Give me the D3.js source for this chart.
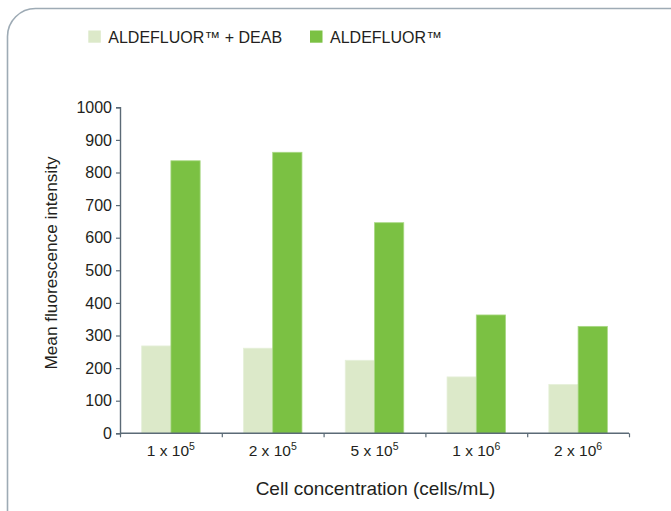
<!DOCTYPE html>
<html>
<head>
<meta charset="utf-8">
<script src="https://cdn.jsdelivr.net/npm/d3@7"></script>
<style>
  body { margin: 0; background: #fff; }
  text { font-family: "Liberation Sans", Arial, sans-serif; fill: #231f20; }
</style>
</head>
<body>
<div class="canvas"></div>
<script>
// data
const categories = ["1 x 10|5", "2 x 10|5", "5 x 10|5", "1 x 10|6", "2 x 10|6"];
const seriesNames = ["ALDEFLUOR™ + DEAB", "ALDEFLUOR™"];
const deabValues = [268, 261, 224, 173, 150];
const aldefluorValues = [836, 862, 646, 363, 328];
const yTicks = [0, 100, 200, 300, 400, 500, 600, 700, 800, 900, 1000];
const colors = ["#dce9c9", "#7bc143"];

const width = 671, height = 511;
const svg = d3.select(".canvas").append("svg")
  .attr("width", width).attr("height", height);

// rounded frame
svg.append("rect")
  .attr("x", 7.5).attr("y", 8.5)
  .attr("width", 700).attr("height", 530)
  .attr("rx", 28).attr("ry", 28)
  .attr("fill", "none")
  .attr("stroke", "#9eabb5")
  .attr("stroke-width", 1.6);

const plotLeft = 120, plotRight = 629, plotTop = 107.3, plotBottom = 433.3;

let yScale = d3.scaleLinear().domain([0, 1000]).range([plotBottom, plotTop]);
let x0 = d3.scaleBand().domain(categories).range([plotLeft, plotRight]).padding(0);
let x1 = d3.scaleBand().domain(seriesNames).range([0, x0.bandwidth()])
  .paddingInner(0).paddingOuter(0.74);
let xEdges = d3.scaleLinear().domain([0, categories.length]).range([plotLeft, plotRight]);

let rows = categories.map((c, i) => ({
  cat: c,
  values: [deabValues[i], aldefluorValues[i]]
}));

// bars
let groups = svg.selectAll("g.group")
  .data(rows)
  .join("g")
  .attr("class", "group")
  .attr("transform", (d) => `translate(${x0(d.cat)},0)`);

groups.selectAll("rect")
  .data((d) => d.values.map((v, j) => ({ name: seriesNames[j], value: v, j: j })))
  .join("rect")
  .attr("x", (d) => x1(d.name))
  .attr("width", x1.bandwidth())
  .attr("y", (d) => yScale(d.value))
  .attr("height", (d) => yScale(0) - yScale(d.value))
  .attr("fill", (d) => colors[d.j])
  .attr("stroke", (d) => (d.j === 0 ? "#e6f0da" : "#a9d884"))
  .attr("stroke-width", 0.8);

const axisColor = "#5b6a76";

// y axis
let yAxis = svg.append("g")
  .attr("transform", `translate(${plotLeft},0)`)
  .call(d3.axisLeft(yScale).tickValues(yTicks).tickFormat(d3.format("d"))
    .tickSize(4).tickPadding(4));
yAxis.selectAll("text").style("font-size", "16px").attr("fill", "#231f20");

// x axis: ticks at category edges
let xAxis = svg.append("g")
  .attr("transform", `translate(0,${plotBottom})`)
  .call(d3.axisBottom(xEdges).tickValues(d3.range(categories.length + 1))
    .tickSize(4).tickFormat(""));

[yAxis, xAxis].forEach((g) => {
  g.select(".domain").attr("stroke", axisColor).attr("stroke-width", 1.4);
  g.selectAll(".tick line").attr("stroke", axisColor).attr("stroke-width", 1.2);
});
xAxis.select(".domain").attr("d", `M${plotLeft},0H${plotRight}`);

// category labels with superscripts
let labels = svg.selectAll("text.cat")
  .data(categories)
  .join("text")
  .attr("class", "cat")
  .attr("x", (d) => x0(d) + x0.bandwidth() / 2)
  .attr("y", 456)
  .attr("text-anchor", "middle")
  .style("font-size", "15.5px");
labels.append("tspan").text((d) => d.split("|")[0]);
labels.append("tspan")
  .attr("dy", -6)
  .style("font-size", "10.5px")
  .text((d) => d.split("|")[1]);

// axis titles
svg.append("text")
  .attr("x", (plotLeft + plotRight) / 2 + 1)
  .attr("y", 495)
  .attr("text-anchor", "middle")
  .style("font-size", "19px")
  .text("Cell concentration (cells/mL)");

svg.append("text")
  .attr("transform", "translate(57,263) rotate(-90)")
  .attr("text-anchor", "middle")
  .style("font-size", "17.2px")
  .text("Mean fluorescence intensity");

// legend
const legendX = [88.3, 310];
let legend = svg.selectAll("g.legend")
  .data(seriesNames)
  .join("g")
  .attr("class", "legend")
  .attr("transform", (d, i) => `translate(${legendX[i]},30.5)`);
legend.append("rect")
  .attr("width", 12.5).attr("height", 12.2)
  .attr("fill", (d, i) => colors[i]);
legend.append("text")
  .attr("x", 20)
  .attr("y", 12.2)
  .style("font-size", "16px")
  .text((d) => d);
</script>
</body>
</html>
